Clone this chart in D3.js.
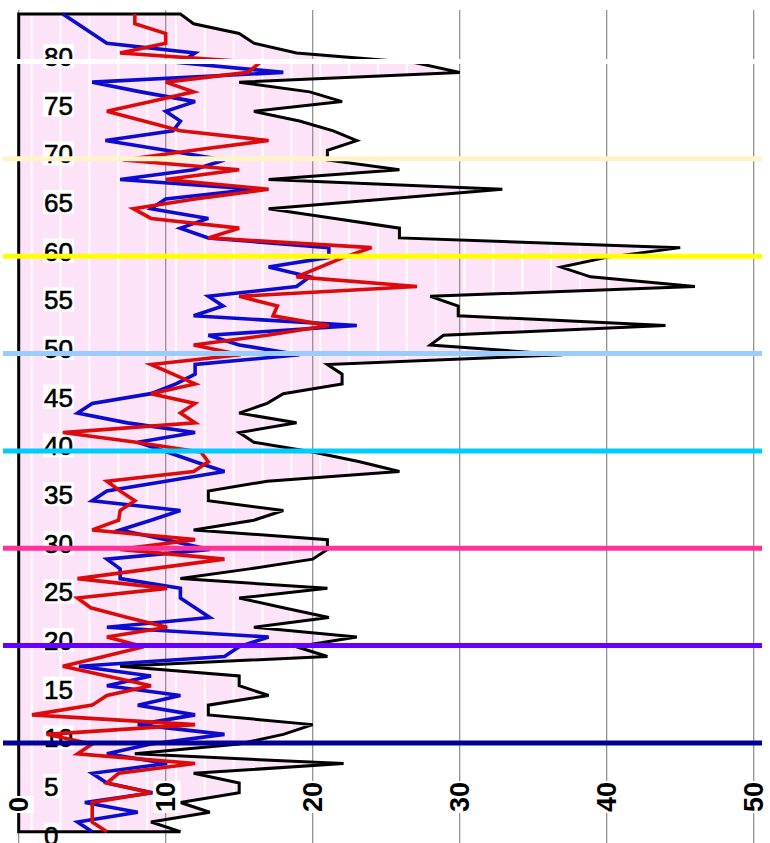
<!DOCTYPE html>
<html>
<head>
<meta charset="utf-8">
<script src="https://cdn.jsdelivr.net/npm/d3@7"></script>
<style>
  html, body { margin: 0; padding: 0; background: #fff; }
  svg { display: block; }
</style>
</head>
<body>
<svg id="chart" width="770" height="843"></svg>
<script>
// ---- data ----
const ages = [0,1,2,3,4,5,6,7,8,9,10,11,12,13,14,15,16,17,18,19,20,21,22,23,24,25,26,27,28,29,
  30,31,32,33,34,35,36,37,38,39,40,41,42,43,44,45,46,47,48,49,50,51,52,53,54,55,56,57,58,59,
  60,61,62,63,64,65,66,67,68,69,70,71,72,73,74,75,76,77,78,79,80,81,82,83,84];

const totalSeries = [11,9,13,11,15,15,11.9,22.1,7.9,15,
  18,20,12.9,12.9,17,15,15,6.9,21,18.9,
  23,16,21.1,18,15,21,11,15.7,20,21,
  21,11.9,16,18,12.9,12.9,16.9,25.9,23.2,20,
  16,15,18.9,15,16.9,18,22,22,21,37,
  28,28.9,44,29.9,29.9,28,46,38.9,36.9,40,
  45,25.9,25.9,21.5,17,25,32.9,17,25.9,21,
  21,23,21.4,19.1,16,22,19.8,15,30,27,
  18.9,16,15,11.9,11];

const blueSeries = [5,4,8.1,4.5,9.1,6,5,10.1,6,9,
  14,8.1,12,8.1,11,6,9,4.1,14,15,
  17,6,13,12,11,11,6.9,6.9,6,13,
  10,6.9,9,11,5,6,10,14,12,10.1,
  8.1,12,7.4,4,5,9,10.7,12,12,19.1,
  15,12.9,23,11.9,13.9,12.9,18.9,19.8,17,21.1,
  21.1,12.9,11,12.9,9,10,16,6.9,11.9,14,
  10,5.9,10.5,11,10,12,8.3,5,18,11,
  12,6,5,4,3];

const redSeries = [6,5,5,5,9,6,6.8,12,4,5,
  1.9,12,0.9,5,6,9,6,3,5.8,8.5,
  6,10.1,7.4,4.9,4,10.1,4,9,14,6.9,
  12,5,6.8,6.9,7.9,6.9,6,11.9,12.9,12.4,
  8,3,12,11,12,9,12,10.5,9,15.1,
  11.9,16.9,21.1,17.3,17.6,15,27.1,18.9,20.5,22.1,
  24,12.9,15,9,7.8,12,17,10,15,7.1,
  11.9,17,11,8.5,6,9,11.9,10,15.6,16.4,
  6.9,10,10,7.9,7.9];

const valueTicks = [0,10,20,30,40,50];
const ageTicks = [0,5,10,15,20,25,30,35,40,45,50,55,60,65,70,75,80];
const decadeAges = [10,20,30,40,50,60,70,80];
const decadeColors = ["#000099","#6600ff","#ff3399","#00ccff","#99ccff","#ffff00","#fff4c8","#ffffff"];

// ---- layout ----
const svg = d3.select("#chart");
const x = d3.scaleLinear().domain([0, 50]).range([18.7, 753.7]);
const y = d3.scaleLinear().domain([0, 84]).range([831.7, 14]);

const rows = ages.map((a, i) => ({age: a, total: totalSeries[i], blue: blueSeries[i], red: redSeries[i]}));

// stripe pattern for the filled area
const defs = svg.append("defs");
const stripeW = x(1.963) - x(0);
const pat = defs.append("pattern")
  .attr("id", "stripes")
  .attr("patternUnits", "userSpaceOnUse")
  .attr("x", 30.7).attr("y", 0)
  .attr("width", stripeW).attr("height", 20);
pat.append("rect").attr("width", stripeW).attr("height", 20).attr("fill", "#fde3f7");
pat.append("rect").attr("x", 0).attr("width", 2).attr("height", 20).attr("fill", "#ffffff").attr("opacity", 0.85);

const area = d3.area()
  .y(d => y(d.age))
  .x0(x(0))
  .x1(d => x(d.total));

// filled area
svg.append("path").datum(rows)
  .attr("d", area)
  .attr("fill", "url(#stripes)")
  .attr("stroke", "none");

// grid lines
svg.append("g").selectAll("line").data(valueTicks).join("line")
  .attr("x1", d => x(d)).attr("x2", d => x(d))
  .attr("y1", 10).attr("y2", 843)
  .attr("stroke", "#8a8a8a").attr("stroke-width", 1.2);

// age labels
const ageG = svg.append("g");
ageTicks.forEach(a => {
  const t = ageG.append("text")
    .attr("x", 44).attr("y", y(a) + 13)
    .attr("font-family", "Liberation Sans, Arial, sans-serif")
    .attr("font-size", 26)
    .attr("fill", "#000")
    .attr("stroke", "#000").attr("stroke-width", 0.6)
    .text(a);
  const b = t.node().getBBox();
  ageG.insert("rect", () => t.node())
    .attr("x", b.x - 1).attr("y", y(a) + 13 - 22)
    .attr("width", b.width + 2).attr("height", 24)
    .attr("fill", "#fff");
});

// black outline of the area
svg.append("path").datum(rows)
  .attr("d", area)
  .attr("fill", "none")
  .attr("stroke", "#000")
  .attr("stroke-width", 3)
  .attr("stroke-linejoin", "miter");

// blue and red series
const lineOf = key => d3.line().x(d => x(d[key])).y(d => y(d.age));
svg.append("path").datum(rows)
  .attr("d", lineOf("blue"))
  .attr("fill", "none").attr("stroke", "#0c0cd0").attr("stroke-width", 3.6);
svg.append("path").datum(rows)
  .attr("d", lineOf("red"))
  .attr("fill", "none").attr("stroke", "#dc0a0a").attr("stroke-width", 3.6);

// value labels (rotated)
const valG = svg.append("g");
valueTicks.forEach(v => {
  const g = valG.append("g").attr("transform", `translate(${x(v)},812) rotate(-90)`);
  const t = g.append("text")
    .attr("x", 0).attr("y", 0).attr("dy", "0.36em")
    .attr("font-family", "Liberation Sans, Arial, sans-serif")
    .attr("font-size", 27).attr("font-weight", "bold")
    .attr("fill", "#000")
    .text(v);
  const b = t.node().getBBox();
  g.insert("rect", () => t.node())
    .attr("x", b.x - 1).attr("y", b.y + 2)
    .attr("width", b.width + 2).attr("height", b.height - 3)
    .attr("fill", "#fff");
});

// decade marker lines
svg.append("g").selectAll("line").data(decadeAges).join("line")
  .attr("x1", 3).attr("x2", 762)
  .attr("y1", d => y(d - 0.88)).attr("y2", d => y(d - 0.88))
  .attr("stroke", (d, i) => decadeColors[i])
  .attr("stroke-width", 5);
</script>
</body>
</html>
